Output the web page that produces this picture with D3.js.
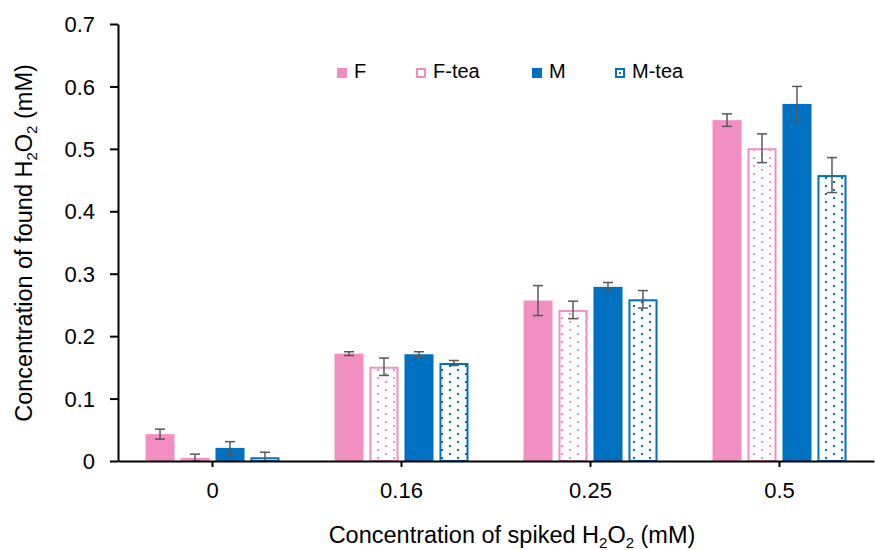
<!DOCTYPE html>
<html>
<head>
<meta charset="utf-8">
<script src="https://cdn.jsdelivr.net/npm/d3@7"></script>
<style>
  body { margin: 0; background: #fff; }
  text { font-family: "Liberation Sans", Arial, sans-serif; fill: #000; }
</style>
</head>
<body>
<div id="chart"></div>
<script>
// Daten
const categories = ["0", "0.16", "0.25", "0.5"];
const seriesNames = ["F", "F-tea", "M", "M-tea"];
const valF    = [0.043, 0.172, 0.257, 0.546];
const valFtea = [0.005, 0.151, 0.242, 0.501];
const valM    = [0.021, 0.171, 0.279, 0.572];
const valMtea = [0.006, 0.157, 0.259, 0.458];
const errF    = [0.008, 0.003, 0.024, 0.010];
const errFtea = [0.006, 0.014, 0.014, 0.023];
const errM    = [0.010, 0.004, 0.007, 0.028];
const errMtea = [0.008, 0.004, 0.014, 0.028];
const yTicks  = [0, 0.1, 0.2, 0.3, 0.4, 0.5, 0.6, 0.7];

const values = [valF, valFtea, valM, valMtea];
const errors = [errF, errFtea, errM, errMtea];
const pink = "#F18FC3", blue = "#0070C0";
const styles = [
  {fill: pink, stroke: "none"},
  {fill: "url(#dotPink)", stroke: pink},
  {fill: blue, stroke: "none"},
  {fill: "url(#dotBlue)", stroke: blue}
];

const data = [];
categories.forEach((c, i) => {
  seriesNames.forEach((s, j) => {
    data.push({cat: c, series: s, idx: j, value: values[j][i], err: errors[j][i]});
  });
});

const W = 875, H = 550;
const margin = {top: 24, right: 1, bottom: 89, left: 118};
const width = W - margin.left - margin.right;
const height = H - margin.top - margin.bottom;

const root = d3.select("#chart").append("svg")
  .attr("width", W).attr("height", H);

// Punktmuster (versetzte Punkte)
const defs = root.append("defs");
[["dotPink", pink], ["dotBlue", blue]].forEach(([id, col]) => {
  const p = defs.append("pattern").attr("id", id)
    .attr("patternUnits", "userSpaceOnUse")
    .attr("width", 16).attr("height", 8);
  p.append("rect").attr("width", 16).attr("height", 8).attr("fill", "#fff");
  p.append("rect").attr("x", 3).attr("y", 1).attr("width", 2).attr("height", 2).attr("fill", col);
  p.append("rect").attr("x", 11).attr("y", 5).attr("width", 2).attr("height", 2).attr("fill", col);
});

const svg = root.append("g")
  .attr("transform", `translate(${margin.left},${margin.top})`);

// Skalen
const x = d3.scaleBand().domain(categories).range([0, width]).padding(0);
const xs = d3.scaleBand().domain(seriesNames)
  .range([x.bandwidth() / 2 - 67, x.bandwidth() / 2 + 67]).paddingInner(0.17);
const y = d3.scaleLinear().domain([0, 0.7]).range([height, 0]);

// Balken
const inset = d => styles[d.idx].stroke === "none" ? 0 : 1;
svg.selectAll(".bar").data(data).join("rect").attr("class", "bar")
  .attr("x", d => x(d.cat) + xs(d.series) + inset(d))
  .attr("y", d => y(d.value) + inset(d))
  .attr("width", d => xs.bandwidth() - 2 * inset(d))
  .attr("height", d => Math.max(0, height - y(d.value) - inset(d)))
  .attr("fill", d => styles[d.idx].fill)
  .attr("stroke", d => styles[d.idx].stroke)
  .attr("stroke-width", 2);

// Fehlerbalken
const eb = svg.selectAll(".err").data(data).join("g").attr("class", "err")
  .attr("stroke", "#595959").attr("stroke-width", 1.5);
const cx = d => x(d.cat) + xs(d.series) + xs.bandwidth() / 2;
const hi = d => y(d.value + d.err);
const lo = d => y(Math.max(0, d.value - d.err));
eb.append("line").attr("x1", cx).attr("x2", cx).attr("y1", hi).attr("y2", lo);
eb.append("line").attr("x1", d => cx(d) - 5).attr("x2", d => cx(d) + 5).attr("y1", hi).attr("y2", hi);
eb.append("line").attr("x1", d => cx(d) - 5).attr("x2", d => cx(d) + 5).attr("y1", lo).attr("y2", lo);

// X-Achse
const xAxis = svg.append("g")
  .attr("transform", `translate(0,${height})`)
  .call(d3.axisBottom(x).tickSize(6).tickSizeOuter(0));
xAxis.select(".domain").attr("stroke", "#000").attr("stroke-width", 2);
xAxis.selectAll(".tick line").attr("stroke-width", 2);
xAxis.selectAll("text").attr("font-size", "22px").attr("y", 37).attr("dy", 0)
  .style("font-family", "Liberation Sans, Arial, sans-serif");

// Y-Achse
const yAxis = svg.append("g")
  .call(d3.axisLeft(y).tickValues(yTicks).tickSize(8).tickSizeOuter(0)
    .tickFormat(d => d === 0 ? "0" : d3.format(".1f")(d)));
yAxis.select(".domain").attr("stroke", "#000").attr("stroke-width", 2);
yAxis.selectAll(".tick line").attr("stroke-width", 2);
yAxis.selectAll("text").attr("font-size", "22px").attr("x", -23).attr("dy", "0.35em")
  .style("font-family", "Liberation Sans, Arial, sans-serif");

// Achsentitel
function titleText(sel, label) {
  sel.append("tspan").text(label + " H");
  sel.append("tspan").attr("font-size", "15px").attr("dy", 5).text("2");
  sel.append("tspan").attr("dy", -5).text("O");
  sel.append("tspan").attr("font-size", "15px").attr("dy", 5).text("2");
  sel.append("tspan").attr("dy", -5).text(" (mM)");
}
root.append("text")
  .attr("x", 512).attr("y", 543).attr("text-anchor", "middle").attr("font-size", "23.5px")
  .call(titleText, "Concentration of spiked");
root.append("text")
  .attr("transform", "translate(32,243) rotate(-90)")
  .attr("text-anchor", "middle").attr("font-size", "23.5px")
  .call(titleText, "Concentration of found");

// Legende
const legendX = [337, 416, 532, 615];
const leg = root.selectAll(".leg").data(seriesNames).join("g").attr("class", "leg")
  .attr("transform", (d, i) => `translate(${legendX[i]},68)`);
leg.append("rect")
  .attr("x", (d, i) => styles[i].stroke === "none" ? 0 : 1)
  .attr("y", (d, i) => styles[i].stroke === "none" ? 0 : 1)
  .attr("width", (d, i) => styles[i].stroke === "none" ? 10 : 8)
  .attr("height", (d, i) => styles[i].stroke === "none" ? 10 : 8)
  .attr("fill", (d, i) => styles[i].stroke === "none" ? styles[i].fill : "#fff")
  .attr("stroke", (d, i) => styles[i].stroke)
  .attr("stroke-width", 2);
leg.filter((d, i) => i === 3).append("rect")
  .attr("x", 4).attr("y", 4).attr("width", 2).attr("height", 2).attr("fill", blue);
leg.append("text").attr("x", 17).attr("y", 10).attr("font-size", "20px").text(d => d);
</script>
</body>
</html>
